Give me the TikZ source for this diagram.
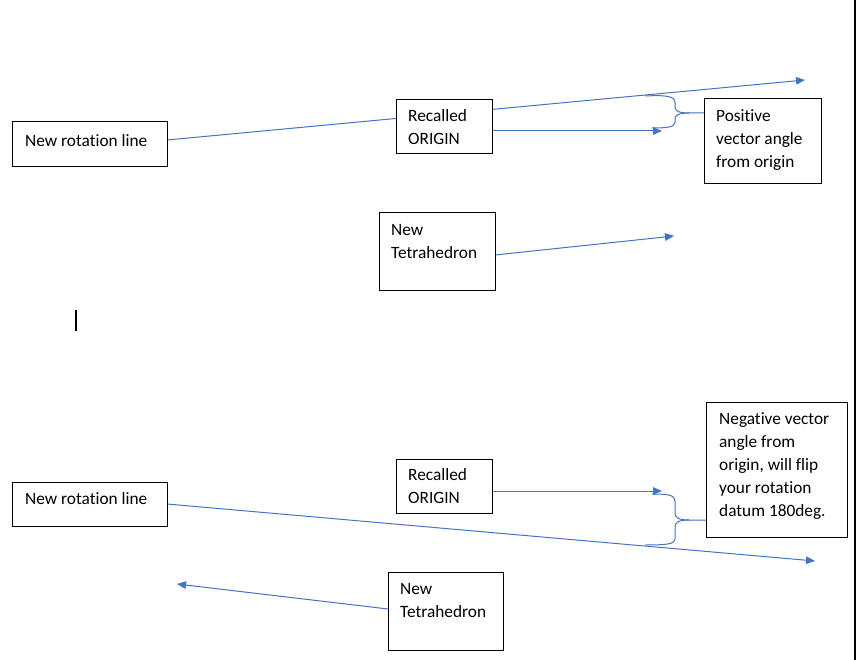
\documentclass[tikz,border=0pt]{standalone}
\usepackage{fontspec}
\setmainfont{Carlito}[Ligatures={NoCommon}]
\usetikzlibrary{arrows.meta,backgrounds}
\definecolor{wordblue}{RGB}{68,114,196}
\begin{document}
\begin{tikzpicture}[x=1pt,y=-1pt,
  box/.style={draw=black, line width=1pt, fill=white, inner sep=0pt, outer sep=0pt},
  txt/.style={anchor=north west, inner sep=0pt, align=left, font=\fontsize{17.3}{23}\selectfont},
  conn/.style={draw=wordblue, line width=1pt},
  arr/.style={conn, -{Triangle[length=9pt,width=7.5pt]}}]
\useasboundingbox (0,0) rectangle (856,660);
% boxes
\node[box, minimum width=155, minimum height=45] (b1) at (89.5,144.5) {};
\node[box, minimum width=96, minimum height=54] (b2) at (444,127) {};
\node[box, minimum width=117, minimum height=85] (b3) at (762.5,141.5) {};
\node[box, minimum width=116, minimum height=77] (b4) at (437,251.5) {};
\node[box, minimum width=96, minimum height=54] (b5) at (444,486) {};
\node[box, minimum width=155, minimum height=44] (b6) at (89.5,504) {};
\node[box, minimum width=141, minimum height=135] (b7) at (776.5,469.5) {};
\node[box, minimum width=115, minimum height=78] (b8) at (445.5,611) {};
% texts
\node[txt] (t1) at (25,130) {\strut New rotation line};
\node[txt] (t2) at (408,105.5) {\strut Recalled\\ORIGIN};
\node[txt] (t3) at (716,105.5) {\strut Positive\\vector angle\\from origin};
\node[txt] (t4) at (391,219.5) {\strut New\\Tetrahedron};
\node[txt] (t5) at (408,464.5) {\strut Recalled\\ORIGIN};
\node[txt] (t6) at (25,488.5) {\strut New rotation line};
\node[txt] (t7) at (719,408.5) {\strut Negative vector\\angle from\\origin, will flip\\your rotation\\datum 180deg.};
\node[txt] (t8) at (400,578.5) {\strut New\\Tetrahedron};
% free ends
\coordinate (a1) at (805,80);
\coordinate (a2) at (662,131);
\coordinate (a3) at (674,236);
\coordinate (a4) at (815,561);
\coordinate (a5) at (662,491);
\coordinate (a6) at (177,584);
\begin{scope}[on background layer]
\draw[arr] ([yshift=4.5pt]b1.east) -- (a1);
\draw[arr] ([yshift=-4pt]b2.east) -- (a2);
\draw[arr] ([yshift=-3.5pt]b4.east) -- (a3);
\draw[arr] (b6.east) -- (a4);
\draw[arr] ([yshift=-5pt]b5.east) -- (a5);
\draw[arr] ([yshift=2pt]b8.west) -- (a6);
% braces
\draw[conn] (645,96) .. controls (667,95) and (675,96) .. (675,103) -- (675,107)
  .. controls (675,111) and (679,113) .. (689,113) -- ([yshift=28.5pt]b3.west);
\draw[conn] (689,113) .. controls (679,113) and (675,115) .. (675,119) -- (675,122)
  .. controls (675,127) and (668,128) .. (652,128);
\draw[conn] (652,494) .. controls (668,494) and (675,495) .. (675,501) -- (675,513)
  .. controls (675,518) and (679,520) .. (689,520) -- ([yshift=-50.5pt]b7.west);
\draw[conn] (689,520) .. controls (679,520) and (675,522) .. (675,527) -- (675,539)
  .. controls (675,544) and (667,545) .. (645,545);
\end{scope}
% cursor and page edge
\draw[black, line width=1.3pt] (76,310) -- (76,331);
\draw[black, line width=1.3pt] (855,0) -- (855,660);
\end{tikzpicture}
\end{document}
